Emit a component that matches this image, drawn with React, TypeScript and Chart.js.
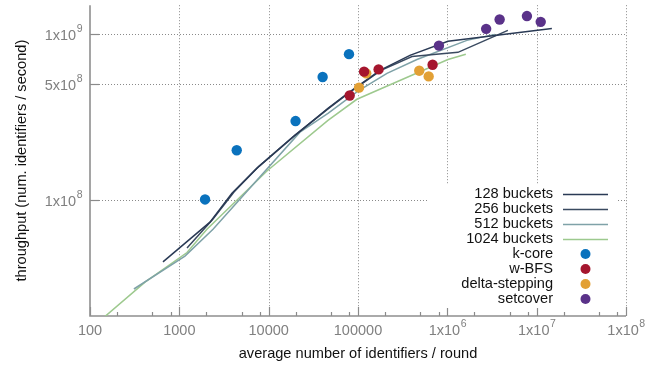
import React, { useEffect, useRef } from "react";
import { Chart, registerables } from "chart.js";

Chart.register(...registerables);

const FONT = '"Liberation Sans", Arial, Helvetica, sans-serif';

// ---- data ----
const b128X = [656, 2203, 3882, 7396, 18700, 46100, 77300, 176000, 381000, 1016000, 14800000];
const b128Y = [4.24e7, 7.37e7, 1.1e8, 1.56e8, 2.4e8, 3.58e8, 4.42e8, 6.07e8, 7.47e8, 9.08e8, 1.087e9];

const b256X = [1219, 2383, 4090, 7780, 19700, 48500, 81300, 181000, 402000, 1315000, 4760000];
const b256Y = [5.14e7, 7.69e7, 1.12e8, 1.6e8, 2.47e8, 3.63e8, 4.48e8, 6.07e8, 7.36e8, 7.79e8, 1.057e9];

const b512X = [310, 1156, 2383, 22400, 46100, 99800, 211000, 457000, 1655000, 3410000];
const b512Y = [2.91e7, 4.6e7, 6.68e7, 2.57e8, 3.34e8, 4.54e8, 5.82e8, 7.06e8, 9.2e8, 1.0e9];

const b1024X = [129, 413, 1219, 2037, 9570, 46100, 97200, 1016000, 1610000];
const b1024Y = [1.87e7, 3.2e7, 4.83e7, 6.68e7, 1.5e8, 3.03e8, 4.06e8, 7.06e8, 7.58e8];

const kCoreX = [1940, 4390, 20000, 40200, 79300];
const kCoreY = [1.01e8, 2.0e8, 3.0e8, 5.53e8, 7.6e8];

const wbfsX = [80700, 117000, 170000, 684000];
const wbfsY = [4.28e8, 5.96e8, 6.15e8, 6.56e8];

const deltaX = [102600, 123600, 485000, 618000];
const deltaY = [4.77e8, 5.82e8, 6.04e8, 5.58e8];

const setcoverX = [805000, 2720000, 3850000, 7780000, 11100000];
const setcoverY = [8.55e8, 1.08e9, 1.23e9, 1.29e9, 1.19e9];

const xTickValues = [100, 1000, 10000, 100000, 1e6, 1e7, 1e8];
const xTickLabels = ["100", "1000", "10000", "100000", "1x10^6", "1x10^7", "1x10^8"];
const xMinorFactors = [2, 5, 8];
const yTickValues = [1e8, 5e8, 1e9];
const yTickLabels = ["1x10^8", "5x10^8", "1x10^9"];

const xTitle = "average number of identifiers / round";
const yTitle = "throughput (num. identifiers / second)";

const lineNames = ["128 buckets", "256 buckets", "512 buckets", "1024 buckets"];
const lineColors = ["#2a3a55", "#3a4a60", "#7fa2a8", "#9dc98e"];
const pointNames = ["k-core", "w-BFS", "delta-stepping", "setcover"];
const pointColors = ["#0a72bd", "#a5162e", "#e2a035", "#5a3289"];

const zip = (xs: number[], ys: number[]) => xs.map((x, i) => ({ x, y: ys[i] }));

function drawSupLabel(
  ctx: CanvasRenderingContext2D,
  label: string,
  x: number,
  y: number,
  align: "center" | "right"
) {
  const [base, exp] = label.split("^");
  ctx.font = `14.5px ${FONT}`;
  const wb = ctx.measureText(base).width;
  let we = 0;
  if (exp) {
    ctx.font = `10.5px ${FONT}`;
    we = ctx.measureText(exp).width;
  }
  const total = wb + we;
  const start = align === "center" ? x - total / 2 : x - total;
  ctx.textAlign = "left";
  ctx.textBaseline = "middle";
  ctx.font = `14.5px ${FONT}`;
  ctx.fillText(base, start, y);
  if (exp) {
    ctx.font = `10.5px ${FONT}`;
    ctx.fillText(exp, start + wb + 0.5, y - 7);
  }
}

const customPlugin = {
  id: "gnuplotLook",
  beforeDatasetsDraw(chart: any) {
    const { ctx, chartArea: a, scales } = chart;
    const xs = scales.x;
    const ys = scales.y;
    ctx.save();
    // dotted grid
    ctx.strokeStyle = "#8a8a8a";
    ctx.lineWidth = 1;
    ctx.setLineDash([1, 2]);
    xTickValues.slice(1).forEach((v) => {
      const px = Math.round(xs.getPixelForValue(v)) + 0.5;
      ctx.beginPath();
      ctx.moveTo(px, a.top);
      ctx.lineTo(px, a.bottom);
      ctx.stroke();
    });
    yTickValues.forEach((v) => {
      const py = Math.round(ys.getPixelForValue(v)) + 0.5;
      ctx.beginPath();
      ctx.moveTo(a.left, py);
      ctx.lineTo(a.right, py);
      ctx.stroke();
    });
    ctx.setLineDash([]);
    // ticks
    ctx.strokeStyle = "#8a8a8a";
    ctx.lineWidth = 1.2;
    xTickValues.forEach((v, i) => {
      const px = Math.round(xs.getPixelForValue(v)) + 0.5;
      ctx.beginPath();
      ctx.moveTo(px, a.bottom);
      ctx.lineTo(px, a.bottom - 9);
      ctx.stroke();
      if (i < xTickValues.length - 1) {
        xMinorFactors.forEach((f) => {
          const mx = Math.round(xs.getPixelForValue(v * f)) + 0.5;
          ctx.beginPath();
          ctx.moveTo(mx, a.bottom);
          ctx.lineTo(mx, a.bottom - 4);
          ctx.stroke();
        });
      }
    });
    yTickValues.forEach((v) => {
      const py = Math.round(ys.getPixelForValue(v)) + 0.5;
      ctx.beginPath();
      ctx.moveTo(a.left, py);
      ctx.lineTo(a.left + 9, py);
      ctx.stroke();
    });
    // axes
    ctx.strokeStyle = "#8f8f8f";
    ctx.lineWidth = 1.6;
    ctx.beginPath();
    ctx.moveTo(a.left, a.top);
    ctx.lineTo(a.left, a.bottom);
    ctx.lineTo(a.right, a.bottom);
    ctx.stroke();
    // tick labels
    ctx.fillStyle = "#808080";
    xTickValues.forEach((v, i) => {
      drawSupLabel(ctx, xTickLabels[i], xs.getPixelForValue(v), a.bottom + 15, "center");
    });
    yTickValues.forEach((v, i) => {
      drawSupLabel(ctx, yTickLabels[i], a.left - 8, ys.getPixelForValue(v) + 2, "right");
    });
    // titles
    ctx.fillStyle = "#111";
    ctx.font = `14.6px ${FONT}`;
    ctx.textAlign = "center";
    ctx.textBaseline = "middle";
    ctx.fillText(xTitle, (a.left + a.right) / 2, a.bottom + 38);
    ctx.save();
    ctx.translate(22, (a.top + a.bottom) / 2);
    ctx.rotate(-Math.PI / 2);
    ctx.fillText(yTitle, 0, 0);
    ctx.restore();
    ctx.restore();
  },
  afterDatasetsDraw(chart: any) {
    const { ctx, chartArea: a } = chart;
    ctx.save();
    const boxLeft = a.right - 198;
    const boxTop = a.bottom - 131;
    ctx.fillStyle = "#ffffff";
    ctx.fillRect(boxLeft, boxTop, 190, 123);
    const textRight = a.right - 73;
    const sampleL = a.right - 63;
    const sampleR = a.right - 18;
    const rowTop = a.bottom - 122;
    const rowH = 15;
    ctx.font = `14.6px ${FONT}`;
    ctx.textAlign = "right";
    ctx.textBaseline = "middle";
    lineNames.forEach((n, i) => {
      const y = rowTop + i * rowH;
      ctx.fillStyle = "#111";
      ctx.fillText(n, textRight, y);
      ctx.strokeStyle = lineColors[i];
      ctx.lineWidth = 1.5;
      ctx.beginPath();
      ctx.moveTo(sampleL, y + 0.5);
      ctx.lineTo(sampleR, y + 0.5);
      ctx.stroke();
    });
    pointNames.forEach((n, j) => {
      const y = rowTop + (j + 4) * rowH;
      ctx.fillStyle = "#111";
      ctx.fillText(n, textRight, y);
      ctx.fillStyle = pointColors[j];
      ctx.beginPath();
      ctx.arc((sampleL + sampleR) / 2, y, 5, 0, Math.PI * 2);
      ctx.fill();
    });
    ctx.restore();
  },
};

export default function App() {
  const ref = useRef<HTMLCanvasElement | null>(null);
  useEffect(() => {
    document.body.style.margin = "0";
    const canvas = ref.current!;
    const lineSets = [
      [b128X, b128Y],
      [b256X, b256Y],
      [b512X, b512Y],
      [b1024X, b1024Y],
    ].map(([xs, ys], i) => ({
      label: lineNames[i],
      data: zip(xs, ys),
      showLine: true,
      borderColor: lineColors[i],
      backgroundColor: lineColors[i],
      borderWidth: 1.5,
      pointRadius: 0,
      tension: 0,
      order: 1,
    }));
    const pointSets = [
      [kCoreX, kCoreY],
      [wbfsX, wbfsY],
      [deltaX, deltaY],
      [setcoverX, setcoverY],
    ].map(([xs, ys], i) => ({
      label: pointNames[i],
      data: zip(xs, ys),
      showLine: false,
      backgroundColor: pointColors[i],
      borderColor: pointColors[i],
      borderWidth: 0,
      pointRadius: 5.2,
      order: 0,
    }));
    const chart = new Chart(canvas, {
      type: "scatter",
      data: { datasets: [...lineSets, ...pointSets] as any },
      options: {
        responsive: false,
        animation: false,
        devicePixelRatio: 1,
        layout: { padding: { left: 90, right: 39, top: 5, bottom: 50 } },
        scales: {
          x: { type: "logarithmic", min: 100, max: 1e8, display: false },
          y: { type: "logarithmic", min: 2e7, max: 1.5e9, display: false },
        },
        plugins: { legend: { display: false }, tooltip: { enabled: false } },
      },
      plugins: [customPlugin],
    });
    return () => chart.destroy();
  }, []);
  return (
    <canvas
      ref={ref}
      width={665}
      height={366}
      style={{ display: "block", width: 665, height: 366 }}
    />
  );
}
